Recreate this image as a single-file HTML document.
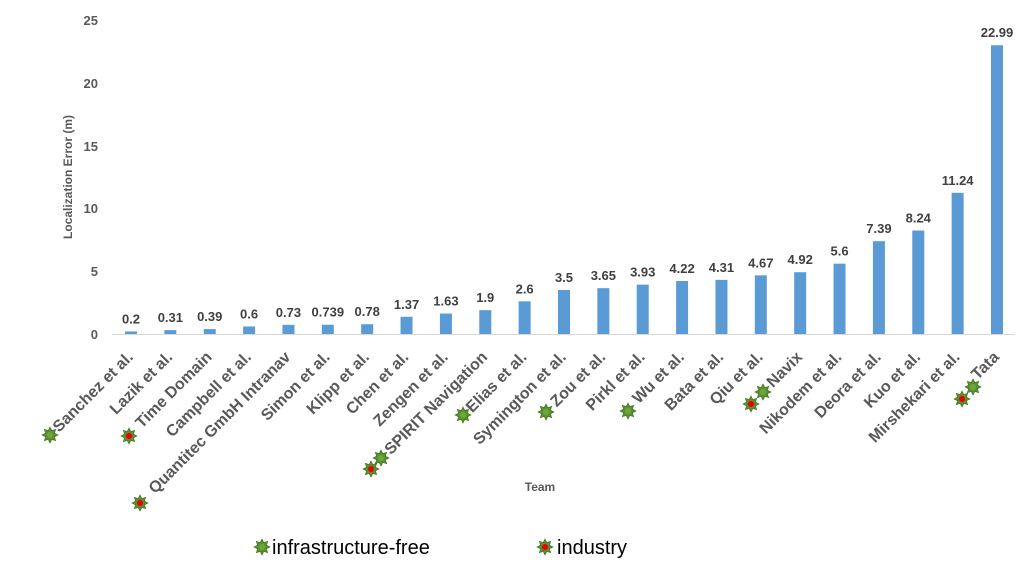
<!DOCTYPE html>
<html><head><meta charset="utf-8"><style>body{margin:0;background:#fff}svg{display:block}</style></head>
<body>
<svg id="s" width="1024" height="568" xmlns="http://www.w3.org/2000/svg" font-family="Liberation Sans, sans-serif">
<defs>
<g id="st"><polygon points="0,-10 2.3,-5.5 7.1,-7.1 5.5,-2.3 10,0 5.5,2.3 7.1,7.1 2.3,5.5 0,10 -2.3,5.5 -7.1,7.1 -5.5,2.3 -10,0 -5.5,-2.3 -7.1,-7.1 -2.3,-5.5" fill="#5b8f2f" stroke="#3f6e1d" stroke-width="0.8"/></g>
</defs>
<g id="chart"></g>
<g font-size="13" font-weight="bold" fill="#595959" text-anchor="end">
<text x="98" y="25">25</text><text x="98" y="88">20</text><text x="98" y="151">15</text><text x="98" y="213">10</text><text x="98" y="276">5</text><text x="98" y="339">0</text>
</g>
<text transform="translate(72,177) rotate(-90)" font-size="12" font-weight="bold" fill="#595959" text-anchor="middle">Localization Error (m)</text>
<text x="540" y="491" font-size="12" font-weight="bold" fill="#595959" text-anchor="middle">Team</text>
<line x1="112" y1="334.5" x2="1015" y2="334.5" stroke="#d9d9d9" stroke-width="1"/>
<use href="#st" transform="translate(262,547) scale(0.8)"/><circle cx="262" cy="547" r="3" fill="#6aa83c"/>
<text x="272" y="554" font-size="20" fill="#000">infrastructure-free</text>
<use href="#st" transform="translate(545,547) scale(0.8)"/><circle cx="545" cy="547" r="3" fill="#e00"/>
<text x="557" y="554" font-size="20" fill="#000">industry</text>
</svg>
<script>
var names=["Sanchez et al.","Lazik et al.","Time Domain","Campbell et al.","Quantitec GmbH Intranav","Simon et al.","Klipp et al.","Chen et al.","Zengen et al.","SPIRIT Navigation","Elias et al.","Symington et al.","Zou et al.","Pirkl et al.","Wu et al.","Bata et al.","Qiu et al.","Navix","Nikodem et al.","Deora et al.","Kuo et al.","Mirshekari et al.","Tata"];
var vals=[0.2,0.31,0.39,0.6,0.73,0.739,0.78,1.37,1.63,1.9,2.6,3.5,3.65,3.93,4.22,4.31,4.67,4.92,5.6,7.39,8.24,11.24,22.99];
var n=vals.length,x0=131,x1=997,sp=(x1-x0)/(n-1),h="";
for(var i=0;i<n;i++){var cx=x0+i*sp,y=334-vals[i]*12.56;
h+='<rect x="'+(cx-6)+'" y="'+y+'" width="12" height="'+(334-y)+'" fill="#5b9bd5"/>';
h+='<text x="'+cx+'" y="'+(y-8)+'" font-size="13" font-weight="bold" fill="#404040" text-anchor="middle">'+vals[i]+'</text>';
h+='<text transform="translate('+(cx+3)+',358) rotate(-45)" font-size="16" font-weight="bold" fill="#595959" text-anchor="end">'+names[i]+'</text>';}
var stars=[[50,435,0],[129,436,1],[140,503,1],[381,458,0],[371,469,1],[463,415,0],[546,412,0],[628,411,0],[763,392,0],[751,404,1],[973,387,0],[962,399,1]];
stars.forEach(function(s){h+='<use href="#st" transform="translate('+s[0]+','+s[1]+') scale(0.8)"/><circle cx="'+s[0]+'" cy="'+s[1]+'" r="3" fill="'+(s[2]?'#e00':'#6aa83c')+'"/>';});
document.getElementById('chart').innerHTML=h;
</script>
</body></html>
